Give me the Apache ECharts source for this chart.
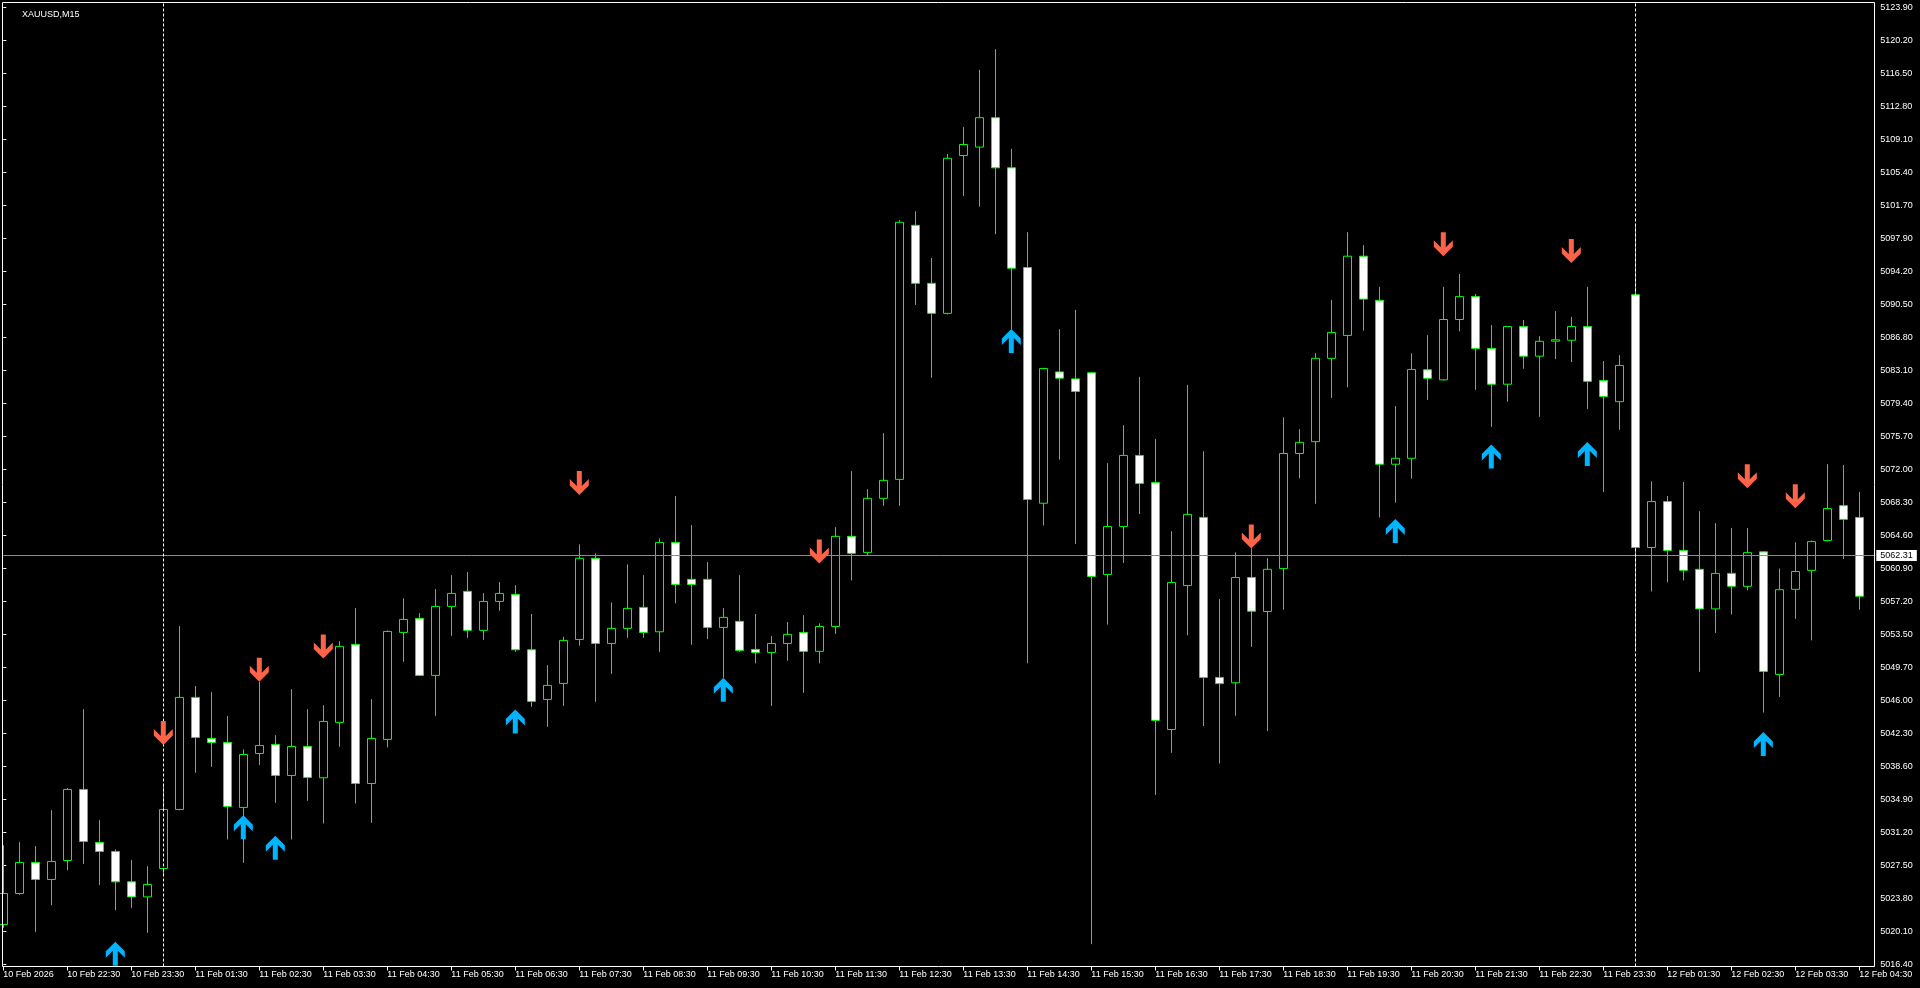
<!DOCTYPE html>
<html>
<head>
<meta charset="utf-8">
<script src="https://cdn.jsdelivr.net/npm/echarts@6/dist/echarts.min.js"></script>
<style>
html,body{margin:0;padding:0;background:#000;}
#chart{width:1920px;height:988px;}
</style>
</head>
<body>
<div id="chart"></div>
<script>
// ---- data (XAUUSD, M15) ----
const symbolTitle = 'XAUUSD,M15';

const opens = [
5020.87,5024.35,5027.84,5025.93,5028.06,5036.04,5030.08,5029.07,5025.66,5023.97,
5027.16,5033.79,5046.38,5041.77,5041.32,5034.02,5040.08,5041.10,5037.61,5040.87,
5037.35,5043.57,5052.33,5036.71,5041.66,5053.68,5055.25,5048.85,5056.60,5058.29,
5053.91,5057.16,5057.95,5051.73,5046.15,5047.95,5052.89,5062.00,5052.44,5054.13,
5056.49,5053.75,5063.79,5059.64,5059.64,5054.24,5054.92,5051.77,5051.43,5052.44,
5053.68,5051.55,5054.35,5064.47,5062.67,5068.74,5070.87,5099.41,5092.89,5089.52,
5107.25,5108.20,5111.50,5105.87,5094.67,5068.19,5082.94,5082.16,5082.85,5060.19,
5065.57,5073.56,5070.51,5042.77,5058.94,5066.60,5048.62,5048.02,5059.85,5056.03,
5060.85,5073.78,5075.11,5084.47,5087.04,5095.94,5090.98,5072.57,5073.24,5083.18,
5082.05,5088.83,5091.40,5085.58,5081.56,5088.04,5084.71,5086.40,5086.50,5088.04,
5081.97,5079.60,5091.61,5063.22,5068.38,5062.89,5060.77,5056.32,5060.31,5058.86,
5062.73,5048.96,5058.52,5060.65,5064.01,5067.92,5066.59
];
const closes = [
5024.35,5027.84,5025.93,5027.95,5036.04,5030.19,5029.07,5025.66,5023.97,5025.37,
5033.79,5046.38,5041.88,5041.32,5034.13,5039.97,5040.98,5037.61,5040.87,5037.39,
5043.68,5052.11,5036.71,5041.77,5053.79,5055.14,5048.85,5056.60,5058.06,5053.91,
5057.16,5058.06,5051.73,5045.93,5047.73,5052.78,5062.00,5052.44,5054.13,5056.38,
5053.68,5063.79,5059.07,5059.07,5054.24,5055.37,5051.66,5051.43,5052.44,5053.46,
5051.55,5054.35,5064.47,5062.56,5068.74,5070.76,5099.75,5092.89,5089.52,5106.94,
5108.49,5111.50,5105.87,5094.59,5068.61,5083.32,5082.24,5080.75,5059.97,5065.57,
5073.56,5070.42,5043.80,5059.29,5066.94,5048.62,5047.93,5059.85,5056.06,5060.77,
5073.78,5075.03,5084.47,5087.38,5095.94,5091.12,5072.57,5073.24,5083.22,5082.22,
5088.83,5091.40,5085.58,5081.56,5088.04,5084.71,5086.38,5086.55,5088.04,5081.88,
5080.19,5083.67,5063.22,5068.38,5062.89,5060.65,5056.32,5060.31,5058.86,5062.64,
5049.30,5058.48,5060.52,5063.88,5067.59,5066.38,5057.74
];
const lows = [
5020.50,5024.20,5020.04,5023.04,5026.97,5027.68,5025.29,5022.48,5022.74,5019.93,
5026.30,5033.70,5037.91,5038.58,5030.42,5027.79,5038.77,5034.53,5030.42,5034.76,
5032.22,5040.83,5034.46,5032.29,5040.76,5050.38,5048.80,5044.31,5053.30,5053.07,
5052.85,5056.11,5051.50,5045.32,5043.07,5045.43,5052.18,5045.88,5049.03,5053.07,
5053.07,5051.50,5056.94,5052.29,5052.93,5048.58,5051.50,5050.20,5045.43,5050.49,
5046.89,5050.20,5053.52,5059.52,5062.33,5067.90,5067.90,5090.46,5082.29,5089.40,
5102.70,5101.50,5098.41,5087.75,5050.21,5065.69,5073.09,5063.62,5018.66,5054.56,
5061.48,5066.98,5035.42,5040.15,5053.35,5043.16,5038.95,5044.32,5052.06,5042.60,
5056.24,5070.99,5068.13,5080.02,5081.22,5087.58,5066.59,5068.25,5070.95,5079.80,
5081.97,5087.50,5080.93,5076.77,5079.60,5083.30,5077.89,5084.38,5084.05,5078.77,
5069.46,5076.44,5051.83,5058.28,5059.31,5059.52,5049.25,5053.61,5055.69,5058.40,
5044.68,5046.42,5055.20,5052.79,5063.90,5061.93,5056.24
];
const highs = [
5029.78,5030.12,5029.67,5033.71,5036.20,5045.06,5032.59,5029.30,5028.10,5027.42,
5036.52,5054.39,5047.65,5046.97,5044.28,5040.53,5048.13,5042.14,5047.31,5045.06,
5045.51,5052.70,5056.41,5046.19,5053.90,5057.50,5055.85,5058.55,5060.12,5060.46,
5058.10,5059.33,5058.99,5055.74,5050.01,5053.20,5063.57,5062.56,5057.05,5061.32,
5060.12,5064.24,5069.00,5065.74,5061.58,5056.41,5060.12,5055.74,5053.27,5054.84,
5055.63,5054.70,5065.51,5071.80,5069.78,5076.07,5100.00,5100.98,5095.74,5107.42,
5110.46,5116.88,5119.20,5108.00,5098.64,5083.40,5087.75,5089.91,5082.90,5072.70,
5076.96,5082.38,5075.41,5065.05,5081.48,5074.03,5057.43,5062.68,5063.11,5062.02,
5077.85,5076.52,5085.04,5091.03,5098.64,5097.19,5092.49,5079.10,5085.04,5087.08,
5092.49,5093.94,5091.70,5088.21,5088.10,5088.78,5086.96,5089.78,5089.12,5092.49,
5084.17,5084.84,5099.51,5070.66,5069.00,5070.58,5067.30,5065.96,5065.42,5065.40,
5062.80,5060.85,5063.80,5064.00,5072.58,5072.49,5069.46
];

// signal arrows: [bar index, price at arrow tip]
const upArrows = [
[7,5018.92],[15,5033.15],[17,5030.83],[32,5045.03],[45,5048.58],
[63,5087.75],[87,5066.42],[93,5074.78],[99,5075.06],[110,5042.48]
];
const downArrows = [
[10,5041.02],[16,5048.13],[20,5050.76],[36,5069.11],[51,5061.43],
[78,5063.11],[90,5095.94],[98,5095.19],[109,5069.87],[112,5067.62]
];

const currentPrice = 5062.31;
const daySeparatorBars = [10, 102];

// price scale tick labels, bottom to top
const priceTickLabels = [
'5016.40','5020.10','5023.80','5027.50','5031.20','5034.90','5038.60','5042.30',
'5046.00','5049.70','5053.50','5057.20','5060.90','5064.60','5068.30','5072.00',
'5075.70','5079.40','5083.10','5086.80','5090.50','5094.20','5097.90','5101.70',
'5105.40','5109.10','5112.80','5116.50','5120.20','5123.90'
];
// time scale labels (every 4th bar)
const timeTickLabels = [
'10 Feb 2026','10 Feb 22:30','10 Feb 23:30','11 Feb 01:30','11 Feb 02:30','11 Feb 03:30',
'11 Feb 04:30','11 Feb 05:30','11 Feb 06:30','11 Feb 07:30','11 Feb 08:30','11 Feb 09:30',
'11 Feb 10:30','11 Feb 11:30','11 Feb 12:30','11 Feb 13:30','11 Feb 14:30','11 Feb 15:30',
'11 Feb 16:30','11 Feb 17:30','11 Feb 18:30','11 Feb 19:30','11 Feb 20:30','11 Feb 21:30',
'11 Feb 22:30','11 Feb 23:30','12 Feb 01:30','12 Feb 02:30','12 Feb 03:30','12 Feb 04:30'
];
// trading sessions shown: [day, start hour, start minute, number of M15 bars]
const sessions = [['10 Feb',21,30,10],['11 Feb',1,0,92],['12 Feb',1,0,15]];

// ---- build ----
const pad = n => (n < 10 ? '0' : '') + n;
const barTimes = [];
sessions.forEach(([d, h, m, n]) => {
  let t = h * 60 + m;
  for (let k = 0; k < n; k++, t += 15) barTimes.push(d + ' ' + pad(Math.floor(t / 60)) + ':' + pad(t % 60));
});
barTimes.push(''); // right margin slot

const candleData = opens.map((o, i) => [o, closes[i], lows[i], highs[i]]);

const FONT = "'Liberation Sans', Arial, sans-serif";
const isLabelBar = idx => idx % 4 === 0 && idx / 4 < timeTickLabels.length;

const upPath = 'path://M9.5,0 L19,9.5 L19,16 L12,9 L12,24 L7,24 L7,9 L0,16 L0,9.5 Z';
const downPath = 'path://M9.5,24 L19,14.5 L19,8 L12,15 L12,0 L7,0 L7,15 L0,8 L0,14.5 Z';

const chart = echarts.init(document.getElementById('chart'), null, {renderer: 'canvas'});

const markData = [
  {
    yAxis: currentPrice,
    lineStyle: {color: '#8c8c8c', width: 1, type: 'solid'},
    label: {
      show: true, position: 'end', distance: 1,
      formatter: currentPrice.toFixed(2),
      color: '#000', backgroundColor: '#fff',
      fontFamily: FONT, fontSize: 9, lineHeight: 9, padding: [1, 4, 1, 4]
    }
  }
].concat(daySeparatorBars.map(b => ({
  xAxis: b,
  lineStyle: {color: '#ffffff', width: 1, type: [3, 2]},
  label: {show: false}
})));

chart.setOption({
  backgroundColor: '#000000',
  animation: false,
  title: {
    text: symbolTitle, left: 17, top: 5,
    textStyle: {color: '#ffffff', fontSize: 9, fontWeight: 'normal', fontFamily: FONT}
  },
  grid: [
    {left: 3.3, right: 44.7, top: 2.5, bottom: 21.5},
    {left: 3.3, right: 44.7, top: 7.3, bottom: 23.7}
  ],
  xAxis: [
    {
      gridIndex: 0, type: 'category', data: barTimes, boundaryGap: false,
      axisLine: {show: false},
      axisTick: {show: true, interval: isLabelBar, length: 4, lineStyle: {color: '#ffffff'}},
      axisLabel: {
        show: true, interval: isLabelBar, color: '#ffffff', fontFamily: FONT, fontSize: 9,
        align: 'left', margin: 4, hideOverlap: false,
        formatter: (v, idx) => timeTickLabels[idx / 4] || ''
      },
      splitLine: {show: false}
    },
    {gridIndex: 1, type: 'value', min: 0, max: 1, show: false}
  ],
  yAxis: [
    {gridIndex: 0, type: 'value', min: 5016.15, max: 5124.44, show: false, splitLine: {show: false}},
    {
      gridIndex: 1, type: 'value', min: 0, max: priceTickLabels.length - 1, interval: 1,
      position: 'right',
      axisLine: {show: false},
      axisTick: {show: true, length: 3, lineStyle: {color: '#ffffff'}},
      axisLabel: {
        color: '#ffffff', fontFamily: FONT, fontSize: 9, margin: 5,
        formatter: v => {
          const k = Math.round(v);
          return Math.abs(v - k) < 1e-6 && priceTickLabels[k] ? priceTickLabels[k] : '';
        }
      },
      splitLine: {show: false}
    }
  ],
  series: [
    {
      type: 'candlestick', xAxisIndex: 0, yAxisIndex: 0,
      data: candleData, barWidth: 9,
      itemStyle: {
        color: '#000000', color0: '#ffffff',
        borderColor: '#00ff00', borderColor0: '#00ff00', borderWidth: 1
      },
      markLine: {silent: true, symbol: ['none', 'none'], animation: false, data: markData}
    },
    {
      type: 'scatter', xAxisIndex: 0, yAxisIndex: 0, data: upArrows,
      symbol: upPath, symbolSize: [19, 24], symbolOffset: [0, 12],
      itemStyle: {color: '#00b4ff', opacity: 1}, z: 5, silent: true
    },
    {
      type: 'scatter', xAxisIndex: 0, yAxisIndex: 0, data: downArrows,
      symbol: downPath, symbolSize: [19, 24], symbolOffset: [0, -12],
      itemStyle: {color: '#ff6347', opacity: 1}, z: 5, silent: true
    }
  ],
  graphic: [{
    type: 'rect', silent: true, z: 100,
    shape: {x: 2.5, y: 2.5, width: 1872, height: 964},
    style: {fill: 'none', stroke: '#ffffff', lineWidth: 1}
  }]
});
</script>
</body>
</html>
